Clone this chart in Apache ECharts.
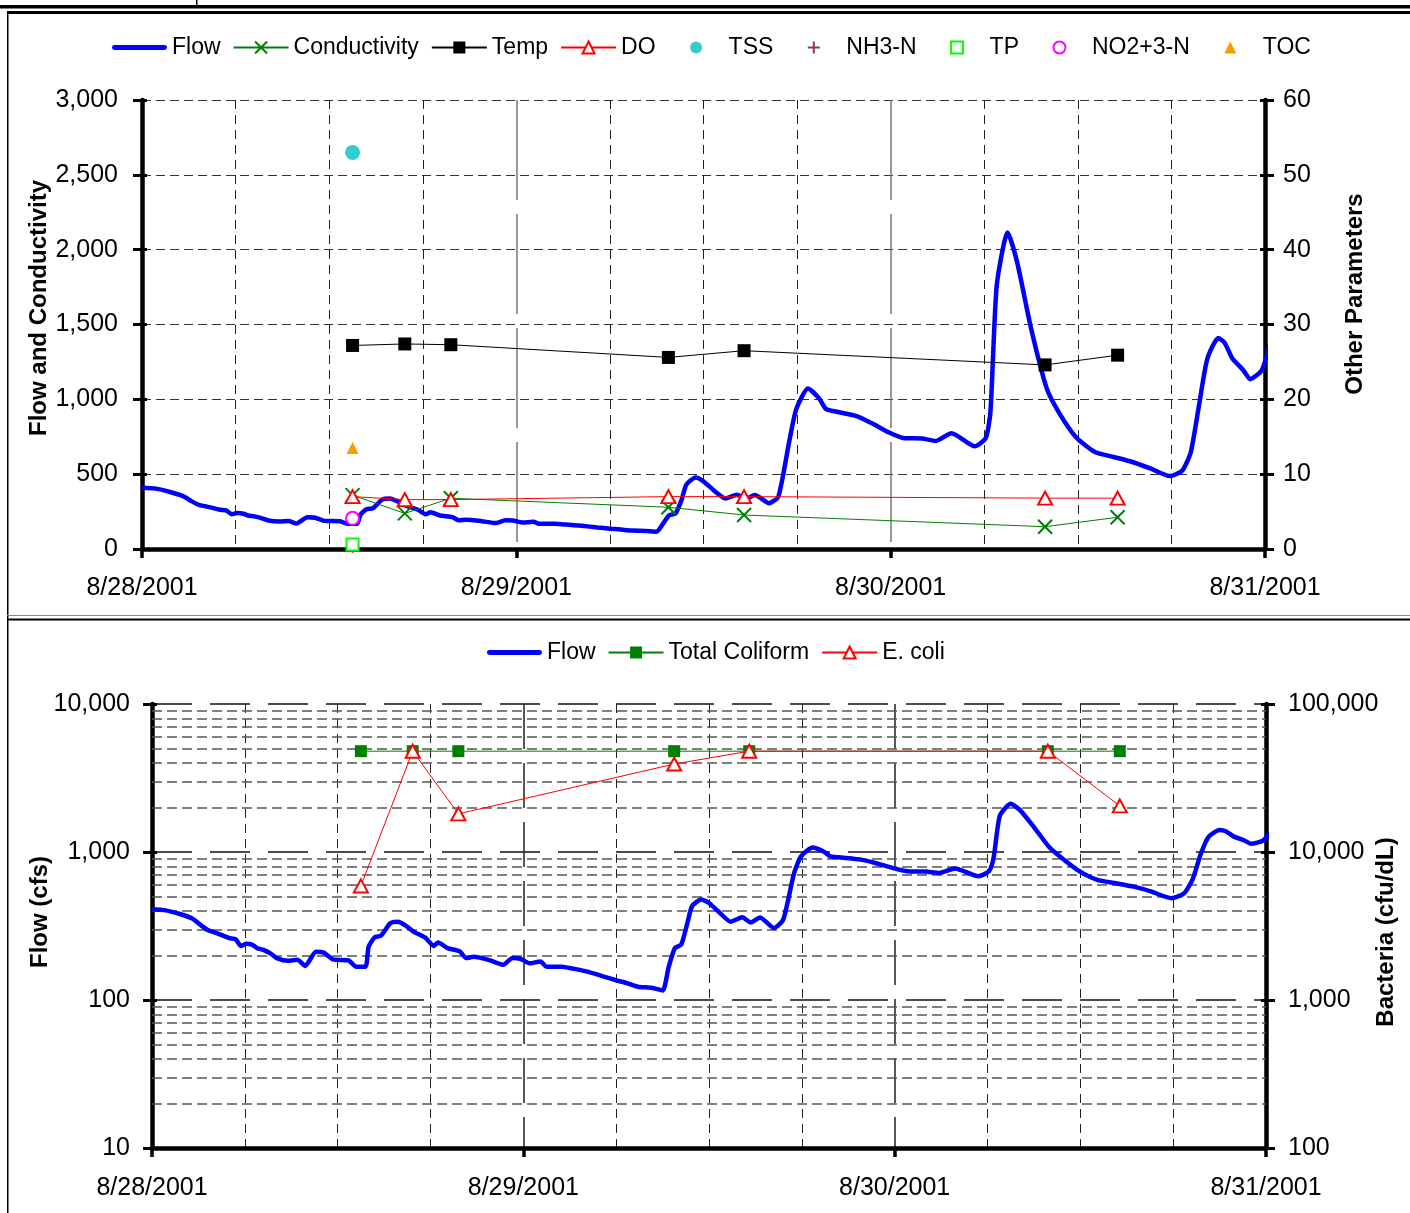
<!DOCTYPE html>
<html>
<head>
<meta charset="utf-8">
<script src="https://cdn.jsdelivr.net/npm/echarts@6/dist/echarts.min.js"></script>
<style>
  html, body { margin: 0; padding: 0; background: #fff; }
  #chart { width: 1410px; height: 1213px; }
</style>
</head>
<body>
<div id="chart"></div>
<script>
// Stream flow (cfs); times are hours after 8/28/2001 00:00
const flowHours = [
  0, 0.8, 1.8, 2.6, 3.2, 3.6, 4.3, 5.0, 5.4, 5.75,
  6.1, 6.5, 6.8, 7.2, 7.7, 8.1, 8.8, 9.4, 9.9, 10.6,
  11.1, 11.7, 12.7, 13.2, 13.8, 14.0, 14.4, 14.8, 15.4, 15.9,
  16.4, 16.9, 17.7, 18.2, 18.5, 19.1, 19.9, 20.3, 20.8, 21.8,
  22.7, 23.3, 23.8, 24.4, 25.1, 25.5, 26.5, 27.2, 28.2, 29.2,
  30.0, 30.7, 31.4, 32.3, 33.0, 33.4, 33.8, 34.2, 34.6, 34.9,
  35.5, 36.0, 36.7, 37.4, 38.15, 38.7, 39.3, 40.2, 40.8, 41.5,
  41.95, 42.7, 43.4, 43.85, 44.4, 45.9, 46.8, 47.9, 48.8, 50.0,
  50.9, 51.9, 53.4, 54.1, 54.4, 54.8, 55.5, 56.1, 57.0, 58.0,
  58.8, 59.9, 61.1, 62.3, 63.45, 64.6, 65.9, 66.7, 67.25, 67.8,
  68.3, 69.0, 69.4, 69.9, 70.6, 71.05, 71.8, 72.4
];
const flowCfs = [
  410, 405, 381, 355, 318, 297, 280, 262, 258, 232,
  240, 236, 224, 218, 205, 191, 184, 187, 170, 212,
  209, 188, 185, 168, 168, 229, 266, 272, 330, 338,
  318, 290, 262, 232, 245, 224, 213, 192, 196, 186,
  173, 192, 190, 177, 182, 168, 168, 163, 155, 144,
  136, 130, 123, 121, 116, 168, 225, 236, 330, 430,
  478, 452, 388, 338, 362, 334, 361, 306, 350, 720,
  935, 1072, 1008, 935, 920, 885, 840, 778, 742, 738,
  722, 774, 686, 742, 920, 1760, 2115, 1920, 1475, 1075,
  910, 745, 648, 615, 583, 540, 487, 525, 650, 980,
  1270, 1409, 1380, 1275, 1196, 1135, 1195, 1409
];

// Grab samples (hours after 8/28/2001 00:00)
const sampleHours = [13.5, 16.85, 19.8, 33.75, 38.6, 57.9, 62.55];
const conductivity = [360, 238, 339, 279, 227, 149, 212];
const temperature = [27.2, 27.4, 27.3, 25.6, 26.5, 24.6, 25.9];
const dissolvedOxygen = [7.0, 6.6, 6.6, 7.0, 7.0, 6.8, 6.8];
// Parameters measured on the first sample only
const tss = [53];
const nh3n = [0.3];
const tp = [0.6];
const no23n = [4.1];
const toc = [13.5];
// Bacteria (cfu/dL)
const totalColiform = [48000, 48000, 48000, 48000, 48000, 48000, 48000];
const eColi = [5900, 48000, 18100, 39300, 48000, 48000, 20500];

const dayLabels = ['8/28/2001', '8/29/2001', '8/30/2001', '8/31/2001'];

const FONT = '"Liberation Sans", Arial, Helvetica, sans-serif';
const pairs = (xs, ys) => ys.map((y, i) => [xs[i], y]);
const firstSample = v => v.map((y, i) => [sampleHours[i], y]);

// 2..9 times each decade between the log-axis decades
const minorLogLines = [];
[10, 100, 1000].forEach(d => { for (let k = 2; k <= 9; k++) minorLogLines.push(d * k); });

const X_PATH = 'path://M0,0L10,10M10,0L0,10';
const PLUS_PATH = 'path://M5,0L5,10M0,5L10,5';
const FLOW_ICON = 'path://M2,0H54A2,2 0 0 1 54,5H2A2,2 0 0 1 2,0Z';

function hourAxis(gridIndex) {
  return {
    type: 'value', gridIndex, min: 0, max: 72, interval: 6, position: 'bottom',
    axisLine: { show: true, onZero: false, lineStyle: { color: '#000', width: 4.5 } },
    axisTick: { show: false }, axisLabel: { show: false },
    splitLine: { show: true, lineStyle: { color: ['rgba(0,0,0,0)', '#222', '#222', '#222'], type: [9, 6], width: 1 } }
  };
}
function dayAxis(gridIndex, margin, lineColor, dash) {
  return {
    type: 'value', gridIndex, min: 0, max: 72, interval: 24, position: 'bottom',
    axisLine: { show: false, onZero: false },
    axisTick: { show: true, length: 9, lineStyle: { color: '#000', width: 3.5 } },
    axisLabel: {
      show: true, margin, color: '#000', fontSize: 25, fontFamily: FONT,
      formatter: v => dayLabels[Math.round(v / 24)]
    },
    splitLine: { show: true, showMinLine: false, showMaxLine: false, lineStyle: { color: lineColor, type: dash, width: 1.5 } }
  };
}
function valueAxis(opts) {
  return Object.assign({
    axisLine: { show: true, onZero: false, lineStyle: { color: '#000', width: 4.5 } },
    axisTick: { show: true, length: 9, lineStyle: { color: '#000', width: 3 } },
    axisLabel: { color: '#000', fontSize: 25, fontFamily: FONT, margin: 24 },
    splitLine: { show: false }
  }, opts);
}
// Inner half of the cross tick marks on the value axes
function innerTicks(opts) {
  return Object.assign({
    axisLine: { show: false, onZero: false },
    axisTick: { show: true, inside: true, length: 5, lineStyle: { color: '#000', width: 3 } },
    axisLabel: { show: false },
    splitLine: { show: false }
  }, opts);
}

// Sample-only parameters drawn as markers without a connecting line
function markerSeries(name, values, symbol, size, itemStyle) {
  return {
    name, type: 'line', xAxisIndex: 0, yAxisIndex: 1, data: firstSample(values),
    symbol, symbolSize: size, showSymbol: true,
    lineStyle: { opacity: 0, width: 1 }, itemStyle
  };
}

const legendText = { fontSize: 23, fontFamily: FONT, color: '#000' };

const option = {
  animation: false,
  backgroundColor: '#fff',
  grid: [
    { left: 142, top: 100, width: 1123, height: 449, outerBoundsMode: 'none' },
    { left: 152, top: 704, width: 1114, height: 444, outerBoundsMode: 'none' }
  ],
  legend: [
    {
      left: 112, top: 36, padding: 0, itemWidth: 55, itemHeight: 15, itemGap: 12, itemTextGap: 5,
      selectedMode: false, textStyle: legendText,
      data: [{ name: 'Flow', icon: FLOW_ICON }, 'Conductivity', 'Temp', 'DO', 'TSS', 'NH3-N', 'TP', 'NO2+3-N', 'TOC']
    },
    {
      left: 487, top: 641, padding: 0, itemWidth: 55, itemHeight: 15, itemGap: 12, itemTextGap: 5,
      selectedMode: false, textStyle: legendText,
      data: [{ name: 'Flow', icon: FLOW_ICON }, 'Total Coliform', 'E. coli']
    }
  ],
  xAxis: [
    hourAxis(0),
    dayAxis(0, 27, '#777', [100, 14]),
    hourAxis(1),
    dayAxis(1, 28, '#222', [45, 14])
  ],
  yAxis: [
    valueAxis({
      type: 'value', gridIndex: 0, position: 'left', min: 0, max: 3000, interval: 500,
      splitLine: { show: true, lineStyle: { color: '#333', type: [9, 5], width: 1 } }
    }),
    valueAxis({
      type: 'value', gridIndex: 0, position: 'right', min: 0, max: 60, interval: 10,
      axisLabel: { color: '#000', fontSize: 25, fontFamily: FONT, margin: 18 }
    }),
    valueAxis({
      type: 'log', logBase: 10, gridIndex: 1, position: 'left', min: 10, max: 10000,
      axisLabel: { color: '#000', fontSize: 25, fontFamily: FONT, margin: 22 },
      splitLine: { show: true, lineStyle: { color: '#111', type: [40, 18], width: 1.5 } }
    }),
    valueAxis({
      type: 'log', logBase: 10, gridIndex: 1, position: 'right', min: 100, max: 100000,
      axisLabel: { color: '#000', fontSize: 25, fontFamily: FONT, margin: 22 }
    }),
    innerTicks({ type: 'value', gridIndex: 0, position: 'left', min: 0, max: 3000, interval: 500 }),
    innerTicks({ type: 'value', gridIndex: 0, position: 'right', min: 0, max: 60, interval: 10 }),
    innerTicks({ type: 'log', logBase: 10, gridIndex: 1, position: 'left', min: 10, max: 10000 }),
    innerTicks({ type: 'log', logBase: 10, gridIndex: 1, position: 'right', min: 100, max: 100000 })
  ],
  series: [
    // ---- upper panel ----
    {
      name: 'Flow', type: 'line', xAxisIndex: 0, yAxisIndex: 0, data: pairs(flowHours, flowCfs),
      symbol: 'none', smooth: 0.2, clip: false,
      lineStyle: { color: '#0000FF', width: 4.5 }, itemStyle: { color: '#0000FF' }
    },
    {
      name: 'Conductivity', type: 'line', xAxisIndex: 0, yAxisIndex: 0, data: pairs(sampleHours, conductivity),
      symbol: X_PATH, symbolSize: 14,
      lineStyle: { color: '#008000', width: 1 },
      itemStyle: { color: '#008000', borderColor: '#008000', borderWidth: 2 }
    },
    {
      name: 'Temp', type: 'line', xAxisIndex: 0, yAxisIndex: 1, data: pairs(sampleHours, temperature),
      symbol: 'rect', symbolSize: 13,
      lineStyle: { color: '#000', width: 1 }, itemStyle: { color: '#000' }
    },
    {
      name: 'DO', type: 'line', xAxisIndex: 0, yAxisIndex: 1, data: pairs(sampleHours, dissolvedOxygen),
      symbol: 'emptyTriangle', symbolSize: [14, 13],
      lineStyle: { color: '#FF0000', width: 1 }, itemStyle: { color: '#FF0000', borderWidth: 2 }
    },
    markerSeries('TSS', tss, 'circle', 15, { color: '#33CCCC' }),
    markerSeries('NH3-N', nh3n, PLUS_PATH, 12, { color: '#993366', borderColor: '#993366', borderWidth: 2 }),
    markerSeries('TP', tp, 'emptyRect', 12, { color: '#00FF00', borderWidth: 2 }),
    markerSeries('NO2+3-N', no23n, 'emptyCircle', 13, { color: '#FF00FF', borderWidth: 2 }),
    markerSeries('TOC', toc, 'triangle', 12, { color: '#FF9900' }),
    // ---- lower panel ----
    {
      name: 'Flow', type: 'line', xAxisIndex: 2, yAxisIndex: 2, data: pairs(flowHours, flowCfs),
      symbol: 'none', smooth: 0.2,
      lineStyle: { color: '#0000FF', width: 4.5 }, itemStyle: { color: '#0000FF' },
      markLine: {
        silent: true, z: 1, animation: false, symbol: ['none', 'none'],
        label: { show: false }, emphasis: { disabled: true },
        lineStyle: { color: '#555', type: [10, 5], width: 1.5 },
        data: minorLogLines.map(v => ({ yAxis: v }))
      }
    },
    {
      name: 'Total Coliform', type: 'line', xAxisIndex: 2, yAxisIndex: 3, data: pairs(sampleHours, totalColiform),
      symbol: 'rect', symbolSize: 12,
      lineStyle: { color: '#008000', width: 1 }, itemStyle: { color: '#008000' }
    },
    {
      name: 'E. coli', type: 'line', xAxisIndex: 2, yAxisIndex: 3, data: pairs(sampleHours, eColi),
      symbol: 'emptyTriangle', symbolSize: [14, 13],
      lineStyle: { color: '#FF0000', width: 1 }, itemStyle: { color: '#FF0000', borderWidth: 2 }
    }
  ],
  graphic: {
    elements: [
      // page frame
      { type: 'rect', shape: { x: 0, y: 5, width: 1410, height: 3.5 }, style: { fill: '#000' } },
      { type: 'rect', shape: { x: 7, y: 11, width: 1403, height: 3 }, style: { fill: '#000' } },
      { type: 'rect', shape: { x: 196, y: 0, width: 1.5, height: 5 }, style: { fill: '#000' } },
      { type: 'rect', shape: { x: 7, y: 11, width: 1.5, height: 1202 }, style: { fill: '#000' } },
      { type: 'rect', shape: { x: 7, y: 615, width: 1403, height: 1 }, style: { fill: '#888' } },
      { type: 'rect', shape: { x: 7, y: 618.5, width: 1403, height: 2 }, style: { fill: '#000' } },
      // axis titles
      {
        type: 'text', x: 39, y: 308, rotation: Math.PI / 2,
        style: { text: 'Flow and Conductivity', fill: '#000', font: 'bold 24px ' + FONT, align: 'center', verticalAlign: 'middle' }
      },
      {
        type: 'text', x: 1355, y: 294, rotation: Math.PI / 2,
        style: { text: 'Other Parameters', fill: '#000', font: 'bold 24px ' + FONT, align: 'center', verticalAlign: 'middle' }
      },
      {
        type: 'text', x: 40, y: 912, rotation: Math.PI / 2,
        style: { text: 'Flow (cfs)', fill: '#000', font: 'bold 24px ' + FONT, align: 'center', verticalAlign: 'middle' }
      },
      {
        type: 'text', x: 1386, y: 932, rotation: Math.PI / 2,
        style: { text: 'Bacteria (cfu/dL)', fill: '#000', font: 'bold 24px ' + FONT, align: 'center', verticalAlign: 'middle' }
      }
    ]
  }
};

const chart = echarts.init(document.getElementById('chart'), null, { renderer: 'canvas' });
chart.setOption(option);
</script>
</body>
</html>
